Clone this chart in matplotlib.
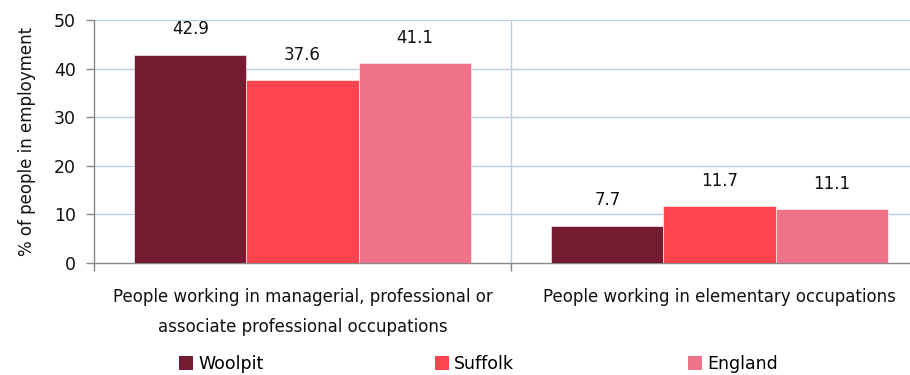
import matplotlib
matplotlib.use("Agg")
import matplotlib.pyplot as plt
from matplotlib.patches import Patch
import numpy as np

plt.rcParams['font.family'] = ['DejaVu Sans']

categories = ["People working in managerial, professional or\nassociate professional occupations",
              "People working in elementary occupations"]
series_names = ["Woolpit", "Suffolk", "England"]
woolpit = [42.9, 7.7]
suffolk = [37.6, 11.7]
england = [41.1, 11.1]
yticks = [0, 10, 20, 30, 40, 50]

colors = ["#751C33", "#FF444F", "#EE7388"]
values = [woolpit, suffolk, england]
text_col = "#111111"

W, H = 910, 375
fig = plt.figure(figsize=(W / 100, H / 100), dpi=100)
# plot area runs slightly past the right edge of the figure
ax = fig.add_axes([94 / W, 1 - 263 / H, (928 - 94) / W, (263 - 20) / H])

x = np.arange(len(categories))
bw = 0.269
for i, (vals, col, name) in enumerate(zip(values, colors, series_names)):
    pos = x + (i - 1) * bw
    bars = ax.bar(pos, vals, width=bw, color=col, edgecolor="white", linewidth=0.4,
                  label=name, zorder=3)
    for b, v in zip(bars, vals):
        ax.annotate(f"{v:.1f}", (b.get_x() + b.get_width() / 2, v),
                    xytext=(0, 14.5), textcoords="offset points",
                    ha="center", va="baseline", fontsize=12, color=text_col)

ax.set_xlim(-0.5, 1.5)
ax.set_ylim(0, 50)
ax.set_yticks(yticks)
ax.tick_params(axis="y", direction="out", length=6, width=1, color="#888888",
               labelsize=12.5, pad=7, labelcolor=text_col)

# category boundaries carry the tick marks and vertical gridlines
ax.set_xticks([-0.5, 0.5, 1.5])
ax.set_xticklabels([])
ax.tick_params(axis="x", which="major", direction="out", length=6, width=1, color="#888888")
ax.set_xticks(x, minor=True)
ax.set_xticklabels(categories, minor=True, fontsize=12, linespacing=1.85, color=text_col)
ax.tick_params(axis="x", which="minor", length=0, pad=18)

for yv in yticks[1:]:
    ax.axhline(yv, color="#B9CDE5", linewidth=1, zorder=1)
ax.axvline(0.5, color="#B9CDE5", linewidth=1, zorder=1)

for s in ["top", "right"]:
    ax.spines[s].set_visible(False)
for s in ["left", "bottom"]:
    ax.spines[s].set_color("#888888")
    ax.spines[s].set_linewidth(1)

ax.set_ylabel("% of people in employment", fontsize=12, color=text_col, labelpad=13)

# one legend entry per series, spaced evenly along the bottom
legend_x = [179, 435, 688]
for c, name, lx in zip(colors, series_names, legend_x):
    fig.legend([Patch(facecolor=c, edgecolor="none")], [name], loc="center left",
               bbox_to_anchor=(lx / W, 1 - 364 / H), frameon=False, fontsize=12.5,
               handlelength=0.8, handleheight=0.8, handletextpad=0.3,
               borderpad=0, borderaxespad=0)

fig.savefig("out.png", dpi=100)
